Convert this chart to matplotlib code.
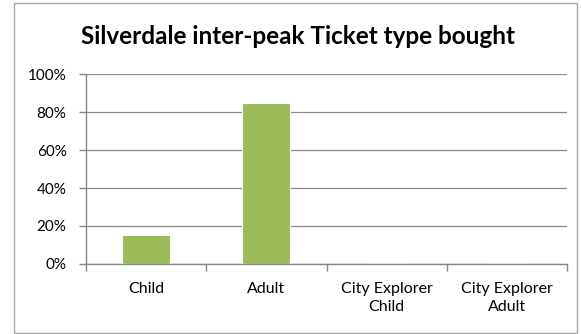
import matplotlib.pyplot as plt
from matplotlib.patches import Rectangle
from matplotlib.ticker import PercentFormatter, FixedLocator, NullFormatter
import numpy as np

categories = ["Child", "Adult", "City Explorer\nChild", "City Explorer\nAdult"]
shares = [0.15, 0.85, 0.0, 0.0]
title = "Silverdale inter-peak Ticket type bought"

plt.rcParams["font.family"] = ["Lato", "DejaVu Sans"]

fig = plt.figure(figsize=(5.81, 3.34), dpi=100)
ax = fig.add_axes([0.148, 0.2096, 0.828, 0.5688])

# rahmen um die ganze grafik
fig.patches.append(Rectangle((0.024, 0.004), 0.969, 0.987, transform=fig.transFigure,
                             fill=False, edgecolor="#a6a6a6", linewidth=1.0))

x = np.arange(len(categories))
ax.bar(x, shares, width=0.4, color="#9bbb59", edgecolor="white", linewidth=0.8, zorder=3)

ax.set_xlim(-0.5, len(categories) - 0.5)
ax.set_ylim(0, 1.0)
ax.yaxis.set_major_formatter(PercentFormatter(1.0, decimals=0))
ax.set_yticks(np.arange(0, 1.01, 0.2))
ax.grid(axis="y", color="#8c8c8c", linewidth=0.9, zorder=0)

ax.set_xticks(x)
ax.set_xticklabels(categories, linespacing=1.35)
ax.xaxis.set_minor_locator(FixedLocator(np.arange(-0.5, len(categories), 1.0)))
ax.xaxis.set_minor_formatter(NullFormatter())
ax.tick_params(axis="x", which="major", length=0, pad=13, labelsize=11.5)
ax.tick_params(axis="x", which="minor", length=5, color="#878787", width=1)
ax.tick_params(axis="y", length=5, color="#878787", width=1, labelsize=11, pad=9)

for side in ["top", "right"]:
    ax.spines[side].set_visible(False)
for side in ["left", "bottom"]:
    ax.spines[side].set_color("#878787")
    ax.spines[side].set_linewidth(1.0)

fig.text(0.513, 0.892, title, ha="center", va="center", fontsize=17.5, fontweight="bold")

fig.savefig("out.png", dpi=100)
